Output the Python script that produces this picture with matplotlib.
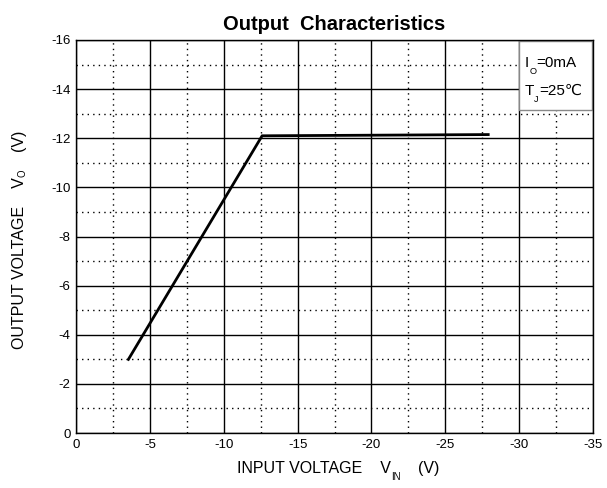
import numpy as np
import matplotlib.pyplot as plt
from matplotlib.patches import Rectangle

plt.rcParams['font.family'] = ['Liberation Sans', 'DejaVu Sans']

# curve
vin = [-3.5, -12.6, -28.0]
vout = [-2.95, -12.1, -12.15]

xticks = [0, -5, -10, -15, -20, -25, -30, -35]
yticks = [0, -2, -4, -6, -8, -10, -12, -14, -16]


def sub_text(ax, x, y, parts, size, rotation=0):
    # parts: list of (text, is_subscript); chained so each piece follows the last
    t = ax.text(x, y, parts[0][0], fontsize=size, va='baseline',
                rotation=rotation, transform=ax.transAxes, zorder=4)
    prev_sub = False
    for s, is_sub in parts[1:]:
        fs = size * 0.6 if is_sub else size
        if is_sub:
            dy = -4
        elif prev_sub:
            dy = 4
        else:
            dy = 0
        prev_sub = is_sub
        if rotation == 90:
            t = ax.annotate(s, xy=(0, 1), xycoords=t, xytext=(-dy, 0),
                            textcoords='offset points', fontsize=fs,
                            rotation=90, ha='left', va='bottom', zorder=4)
        else:
            t = ax.annotate(s, xy=(1, 0), xycoords=t, xytext=(0, dy),
                            textcoords='offset points', fontsize=fs,
                            va='bottom', zorder=4)
    return t


fig = plt.figure(figsize=(6.07, 4.88), dpi=100)
ax = fig.add_axes([76 / 607, 1 - 433 / 488, 517 / 607, 393 / 488])

ax.set_xlim(0, -35)
ax.set_ylim(0, -16)
ax.set_xticks(xticks)
ax.set_xticklabels([str(v) for v in xticks])
ax.set_yticks(yticks)
ax.set_yticklabels([str(v) for v in yticks])
ax.set_xticks(np.arange(-2.5, -35, -5), minor=True)
ax.set_yticks(np.arange(-1, -16, -2), minor=True)
ax.tick_params(which='both', length=0, labelsize=9.5, pad=4)

ax.grid(which='major', color='black', linewidth=1.0)
ax.grid(which='minor', color='black', linewidth=1.0, linestyle=(0, (1, 3)))
for s in ax.spines.values():
    s.set_linewidth(1.0)
    s.set_color('black')

ax.plot(vin, vout, color='black', linewidth=2.0, solid_capstyle='butt', zorder=3)

# condition box in the top right corner
ax.add_patch(Rectangle((-30, -13.15), -4.9, -2.8, facecolor='white',
                       edgecolor='#888888', linewidth=1.0, zorder=2.5))
tx = (525 - 76) / 517
sub_text(ax, tx, (433 - 67) / 393, [('I', False), ('O', True), ('=0mA', False)], 11)
sub_text(ax, tx, (433 - 95) / 393, [('T', False), ('J', True), ('=25℃', False)], 11)

ax.set_title('Output  Characteristics', fontsize=14.5, fontweight='bold', pad=7)

sub_text(ax, (237 - 76) / 517, (433 - 473) / 393,
         [('INPUT VOLTAGE    V', False), ('IN', True), ('    (V)', False)], 11.5)
sub_text(ax, (12 - 76) / 517, (433 - 346) / 393,
         [('OUTPUT VOLTAGE    V', False), ('O', True), ('    (V)', False)], 11.5,
         rotation=90)

fig.savefig('out.png', dpi=100)
